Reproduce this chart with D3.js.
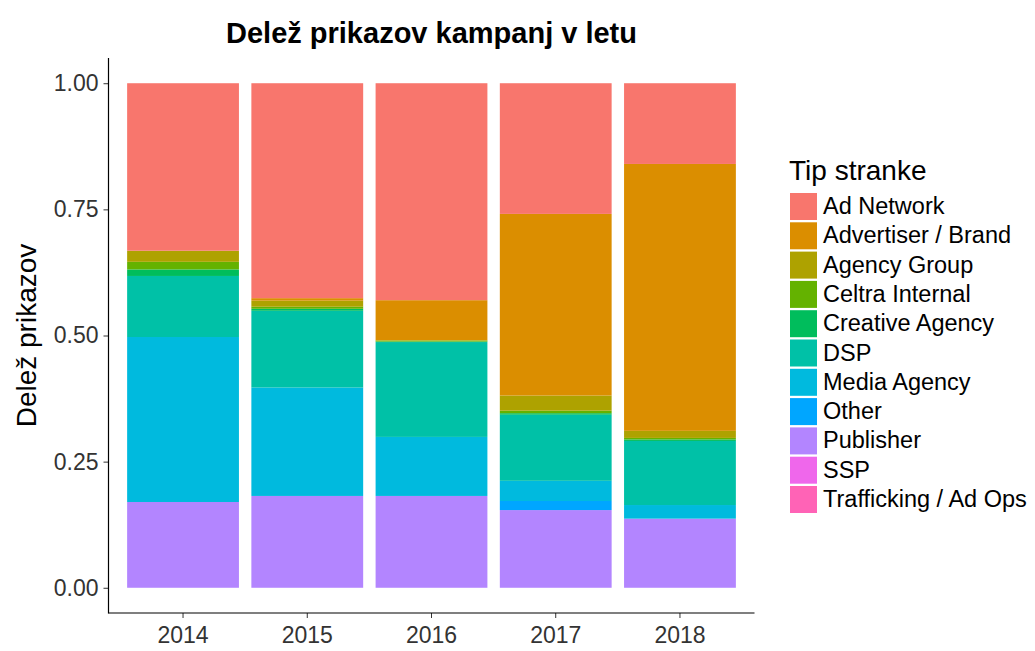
<!DOCTYPE html>
<html>
<head>
<meta charset="utf-8">
<script src="https://cdn.jsdelivr.net/npm/d3@7"></script>
<style>
  body { margin: 0; background: #fff; }
  text { font-family: "Liberation Sans", Arial, sans-serif; }
</style>
</head>
<body>
<div id="grafico"></div>
<script>
// Dati
var years = ["2014", "2015", "2016", "2017", "2018"];
var tipi = ["Ad Network", "Advertiser / Brand", "Agency Group", "Celtra Internal", "Creative Agency",
  "DSP", "Media Agency", "Other", "Publisher", "SSP", "Trafficking / Ad Ops"];
var colori = ["#F8766D", "#DB8E00", "#AEA200", "#64B200", "#00BD5C", "#00C1A7",
  "#00BADE", "#00A6FF", "#B385FF", "#EF67EB", "#FF63B6"];

// un array per ogni tipo, valori per anno (2014..2018)
var adNetwork   = [0.332, 0.426, 0.430, 0.259, 0.160];
var advertiser  = [0.000, 0.005, 0.079, 0.360, 0.529];
var agencyGroup = [0.022, 0.012, 0.001, 0.030, 0.014];
var celtra      = [0.015, 0.004, 0.002, 0.005, 0.003];
var creative    = [0.013, 0.004, 0.001, 0.003, 0.003];
var dsp         = [0.121, 0.152, 0.188, 0.131, 0.127];
var mediaAgency = [0.327, 0.215, 0.117, 0.040, 0.027];
var other       = [0.000, 0.000, 0.000, 0.018, 0.000];
var publisher   = [0.170, 0.182, 0.182, 0.154, 0.137];
var ssp         = [0.000, 0.000, 0.000, 0.000, 0.000];
var trafficking = [0.000, 0.000, 0.000, 0.000, 0.000];

var serie = [adNetwork, advertiser, agencyGroup, celtra, creative, dsp,
  mediaAgency, other, publisher, ssp, trafficking];

var yTicks = [0, 0.25, 0.5, 0.75, 1];

// tabella per lo stack
var tabella = years.map(function(y, i) {
  var row = {anno: y};
  tipi.forEach(function(t, j) { row[t] = serie[j][i]; });
  return row;
});

var W = 1035, H = 651;
var plot = {left: 108.5, right: 754.5, top: 58, bottom: 613};

var svg = d3.select("#grafico")
  .append("svg")
  .attr("width", W)
  .attr("height", H);

var x = d3.scaleBand()
  .domain(years)
  .range([plot.left, plot.right])
  .paddingInner(0.1)
  .paddingOuter(0.15);

var y = d3.scaleLinear()
  .domain([-0.05, 1.05])
  .range([plot.bottom, plot.top]);

var colore = d3.scaleOrdinal().domain(tipi).range(colori);

// ggplot mette il primo livello in alto: stack in ordine inverso
var stack = d3.stack().keys(tipi.slice().reverse());
var strati = stack(tabella);

svg.append("g")
  .selectAll("g")
  .data(strati)
  .enter()
  .append("g")
  .attr("fill", function(d) { return colore(d.key); })
  .selectAll("rect")
  .data(function(d) { return d; })
  .enter()
  .append("rect")
  .attr("x", function(d) { return x(d.data.anno); })
  .attr("width", x.bandwidth())
  .attr("y", function(d) { return y(d[1]); })
  .attr("height", function(d) { return Math.max(0, y(d[0]) - y(d[1])); });

// Asse Y
var assey = svg.append("g")
  .attr("transform", "translate(" + plot.left + ",0)")
  .call(d3.axisLeft(y).tickValues(yTicks).tickFormat(d3.format(".2f")).tickSize(5).tickPadding(5).tickSizeOuter(0));
assey.select(".domain").remove();
assey.selectAll("text").style("font-size", "23px").attr("fill", "#333");
assey.selectAll("line").attr("stroke", "#333");

// Asse X
var assex = svg.append("g")
  .attr("transform", "translate(0," + plot.bottom + ")")
  .call(d3.axisBottom(x).tickSize(5).tickPadding(9).tickSizeOuter(0));
assex.select(".domain").remove();
assex.selectAll("text").style("font-size", "23px").attr("fill", "#333");
assex.selectAll("line").attr("stroke", "#333");

// linee degli assi
svg.append("line")
  .attr("x1", plot.left).attr("x2", plot.left)
  .attr("y1", plot.top).attr("y2", plot.bottom + 0.5)
  .attr("stroke", "black").attr("stroke-width", 1.2);
svg.append("line")
  .attr("x1", plot.left).attr("x2", plot.right)
  .attr("y1", plot.bottom).attr("y2", plot.bottom)
  .attr("stroke", "black").attr("stroke-width", 1.2);

// Titolo
svg.append("text")
  .attr("x", (plot.left + plot.right) / 2)
  .attr("y", 43)
  .attr("text-anchor", "middle")
  .style("font-size", "29px")
  .style("font-weight", "bold")
  .text("Delež prikazov kampanj v letu");

// Titolo asse Y
svg.append("text")
  .attr("transform", "translate(36," + ((plot.top + plot.bottom) / 2) + ") rotate(-90)")
  .attr("text-anchor", "middle")
  .style("font-size", "28px")
  .text("Delež prikazov");

// Legenda
var legenda = svg.append("g").attr("transform", "translate(789,0)");
legenda.append("text")
  .attr("x", 0)
  .attr("y", 180)
  .style("font-size", "28px")
  .text("Tip stranke");

var voci = legenda.selectAll(".voce")
  .data(tipi)
  .enter()
  .append("g")
  .attr("class", "voce")
  .attr("transform", function(d, i) { return "translate(0," + (192 + i * 29.3) + ")"; });
voci.append("rect")
  .attr("x", 1)
  .attr("y", 1)
  .attr("width", 27)
  .attr("height", 27)
  .attr("fill", function(d) { return colore(d); });
voci.append("text")
  .attr("x", 34)
  .attr("y", 22)
  .style("font-size", "23.5px")
  .text(function(d) { return d; });
</script>
</body>
</html>
